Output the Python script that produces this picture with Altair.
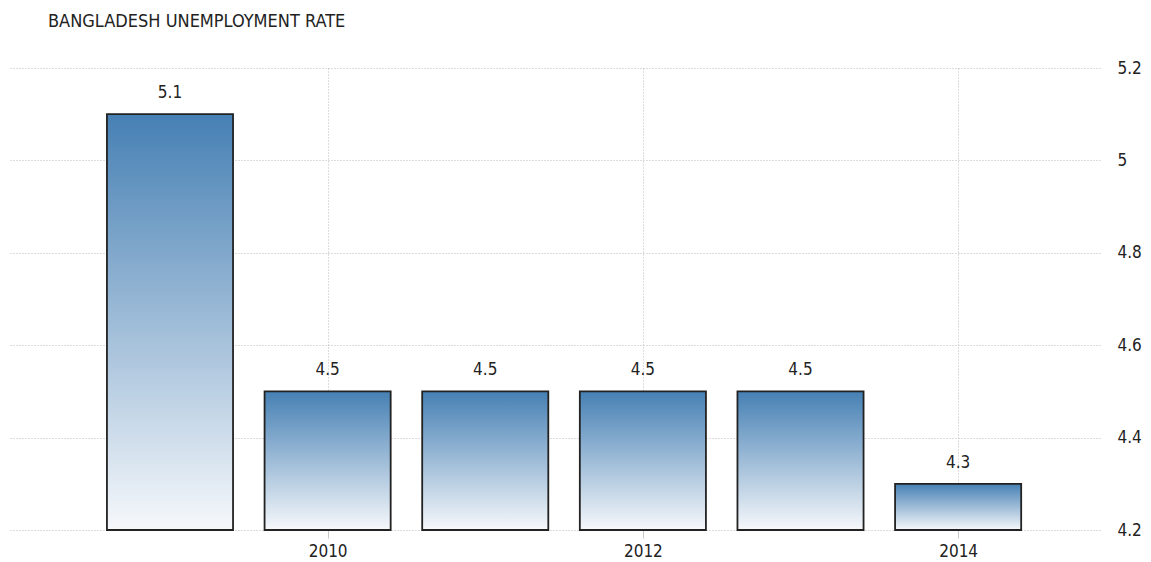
import altair as alt
import pandas as pd

years = [2009, 2010, 2011, 2012, 2013, 2014]
rates = [5.1, 4.5, 4.5, 4.5, 4.5, 4.3]
labels = ["5.1", "4.5", "4.5", "4.5", "4.5", "4.3"]
y_ticks = [4.2, 4.4, 4.6, 4.8, 5.0, 5.2]
x_ticks = [2010, 2012, 2014]

df = pd.DataFrame({"year": years, "rate": rates, "label": labels})
df["x1"] = df["year"] - 0.4
df["x2"] = df["year"] + 0.4
df["base"] = 4.2

FONT = "DejaVu Sans Condensed"

xs = alt.Scale(domain=[2007.985, 2014.9], nice=False, zero=False)
ys = alt.Scale(domain=[4.2, 5.2], nice=False, zero=False)

bars = alt.Chart(df).mark_bar(
    color=alt.Gradient(
        gradient="linear",
        stops=[alt.GradientStop(color="#4680b4", offset=0),
               alt.GradientStop(color="#f6f8fb", offset=1)],
        x1=0, x2=0, y1=0, y2=1,
    ),
    stroke="#222222",
    strokeWidth=1.8,
).encode(
    x=alt.X("x1:Q", scale=xs, axis=alt.Axis(
        values=x_ticks, format="d", title=None, domain=False,
        grid=True, gridColor="#bbbbbb", gridDash=[1, 2], gridWidth=1,
        tickColor="#c8c8c8", tickSize=8, labelPadding=5,
        labelFont=FONT, labelFontSize=17, labelColor="#222222")),
    x2="x2:Q",
    y=alt.Y("rate:Q", scale=ys, axis=alt.Axis(
        orient="right", values=y_ticks, format=".2~f", title=None,
        domain=False, ticks=False, labelPadding=17,
        grid=True, gridColor="#bbbbbb", gridDash=[1, 2], gridWidth=1,
        labelFont=FONT, labelFontSize=17, labelColor="#222222")),
    y2="base:Q",
)

text = alt.Chart(df).mark_text(
    dy=-21, baseline="middle", align="center",
    font=FONT, fontSize=17, color="#222222",
).encode(
    x=alt.X("year:Q", scale=xs),
    y=alt.Y("rate:Q", scale=ys),
    text="label:N",
)

chart = alt.layer(bars, text).properties(
    width=1090, height=462,
    autosize=alt.AutoSizeParams(type="none"),
    padding={"left": 10, "top": 68, "right": 51, "bottom": 32},
    background="white",
    title=alt.TitleParams(
        "BANGLADESH UNEMPLOYMENT RATE", anchor="start", dx=38, offset=28,
        font=FONT, fontSize=18, fontWeight="normal", color="#222222"),
).configure_view(stroke=None)

chart.save("out.html", embed_options={"renderer": "svg", "actions": False})
